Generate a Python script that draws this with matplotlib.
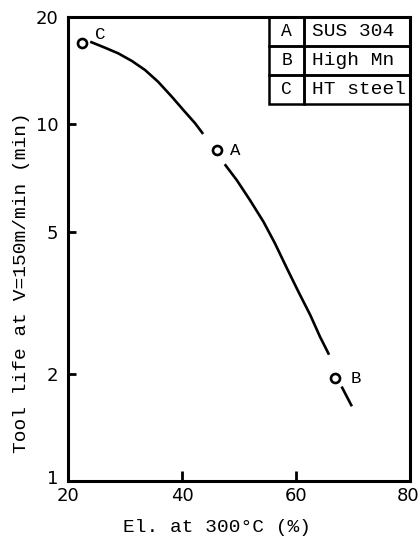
import matplotlib
matplotlib.use("Agg")
import matplotlib.pyplot as plt
import matplotlib.transforms as mtransforms
from matplotlib.patches import Rectangle

# Data
materials = ["C", "A", "B"]
elongation = [22.4, 46.1, 66.8]
tool_life = [16.9, 8.5, 1.95]

# Fitted curve, read as three visible pieces
curve1_x = [23.9, 26.5, 28.8, 31.2, 33.5, 35.8, 38.2, 40.5, 42.3, 43.7]
curve1_y = [17.05, 16.40, 15.82, 15.06, 14.21, 13.17, 11.96, 10.85, 10.07, 9.40]
curve2_x = [47.5, 49.6, 51.9, 54.3, 56.3, 58.4, 60.4, 62.5, 64.2, 65.8]
curve2_y = [7.73, 6.98, 6.14, 5.33, 4.64, 3.95, 3.40, 2.92, 2.54, 2.26]
curve3_x = [68.0, 69.8]
curve3_y = [1.84, 1.62]

table_keys = ["A", "B", "C"]
table_names = ["SUS 304", "High Mn", "HT steel"]

x_ticks = [20, 40, 60, 80]
y_ticks = [1, 2, 5, 10, 20]
y_tick_labels = ["1", "2", "5", "10", "20"]

mono = "Liberation Mono"

fig = plt.figure(figsize=(4.19, 5.41), dpi=100)
ax = fig.add_axes([68/419, 60/541, 342/419, 464/541])
ax.set_yscale("log")
ax.set_xlim(20, 80)
ax.set_ylim(1, 20)

lw = 1.9
for cx, cy in [(curve1_x, curve1_y), (curve2_x, curve2_y), (curve3_x, curve3_y)]:
    ax.plot(cx, cy, color="black", lw=lw, solid_capstyle="butt", solid_joinstyle="round")

ax.plot(elongation, tool_life, linestyle="none", marker="o", markersize=6.5,
        markerfacecolor="white", markeredgecolor="black", markeredgewidth=1.9)

offsets = {"C": (13, 6), "A": (13, -1), "B": (15, -1)}
for m, x, y in zip(materials, elongation, tool_life):
    ax.annotate(m, (x, y), xytext=offsets[m], textcoords="offset points",
                fontsize=12.5, family=mono, va="center", ha="center")

# Table in upper-right
x0, x1, x2 = 0.588, 0.690, 1.0
row_h = 0.0625
for i, (k, n) in enumerate(zip(table_keys, table_names)):
    top = 1.0 - i * row_h
    bot = top - row_h
    ax.add_patch(Rectangle((x0, bot), x1 - x0, row_h, transform=ax.transAxes,
                           fill=False, edgecolor="black", lw=1.8, clip_on=False))
    ax.add_patch(Rectangle((x1, bot), x2 - x1, row_h, transform=ax.transAxes,
                           fill=False, edgecolor="black", lw=1.8, clip_on=False))
    ax.text((x0 + x1) / 2, (top + bot) / 2, k, transform=ax.transAxes,
            ha="center", va="center", fontsize=13, family=mono)
    ax.text(x1 + 0.022, (top + bot) / 2, n, transform=ax.transAxes,
            ha="left", va="center", fontsize=14, family=mono)

for s in ax.spines.values():
    s.set_linewidth(2.2)

ax.set_xticks(x_ticks)
ax.set_xticklabels([str(t) for t in x_ticks], fontsize=13, family="DejaVu Sans")
ax.set_yticks(y_ticks)
ax.set_yticklabels(y_tick_labels, fontsize=13, family="DejaVu Sans")
ax.yaxis.set_minor_locator(matplotlib.ticker.NullLocator())
ax.tick_params(axis="x", direction="in", length=7, width=2, pad=4)
ax.tick_params(axis="y", direction="in", length=6, width=2, pad=7)
for t in [ax.xaxis.get_major_ticks()[0], ax.xaxis.get_major_ticks()[-1]]:
    t.tick1line.set_visible(False)
for t in [ax.yaxis.get_major_ticks()[0], ax.yaxis.get_major_ticks()[-1]]:
    t.tick1line.set_visible(False)

# nudge the "1" label up slightly so it clears the x tick label "20"
lbl1 = ax.yaxis.get_major_ticks()[0].label1
lbl1.set_transform(lbl1.get_transform() + mtransforms.ScaledTranslation(0, 4/100, fig.dpi_scale_trans))
# keep "80" inside the figure edge
lbl80 = ax.xaxis.get_major_ticks()[-1].label1
lbl80.set_horizontalalignment("right")
lbl80.set_transform(lbl80.get_transform() + mtransforms.ScaledTranslation(9/100, 0, fig.dpi_scale_trans))

fig.text(217/419, 1 - 527/541, "El. at 300°C (%)", fontsize=14, family=mono,
         ha="center", va="center")
fig.text(22/419, 1 - 283/541, "Tool life at V=150m/min (min)", fontsize=14,
         family=mono, ha="center", va="center", rotation=90)

fig.savefig("out.png", dpi=100)
